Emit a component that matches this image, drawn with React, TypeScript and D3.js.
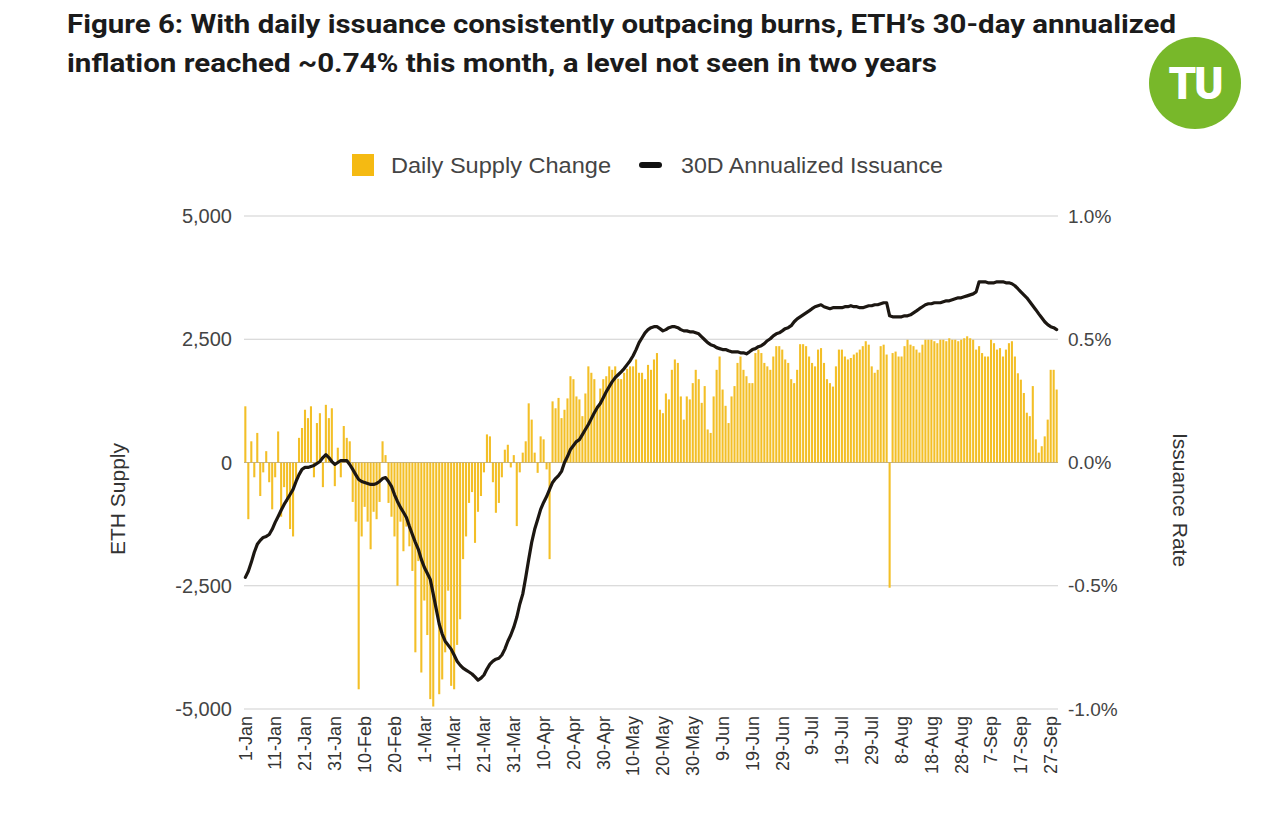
import React from "react";
import * as d3 from "d3";

// Daily ETH supply change (ETH), one value per day from 1-Jan
const dailySupplyChange: number[] = [
  1140, -1150, 430, -300, 600, -680, -200, 230, -400, -950,
  -300, 630, -1100, -500, -800, -1350, -1500, -400, 500, 700,
  1070, 900, 1140, -300, 800, 1000, -500, 1170, 900, 1100,
  -480, 300, -300, 740, 500, 430, -800, -1200, -4600, -1500,
  -900, -1200, -1760, -1000, -1150, -800, 430, 150, -820, -1100,
  -1500, -2500, -1200, -1800, -1300, -1700, -2200, -3850, -2000, -4260,
  -2800, -3500, -4800, -4950, -3000, -4700, -4400, -3850, -2600, -4530,
  -4600, -3700, -3180, -1960, -1500, -820, -600, -1630, -1000, -680,
  -200, 570, 530, -400, -1020, -820, -300, 260, 360, -100,
  150, -1290, -200, 200, 430, 1200, 870, 200, -210, 530,
  470, -140, -1960, 1240, 1100, 1310, 900, 1070, 1300, 1750,
  1690, 1340, 1280, 940, 1400, 1950, 1820, 1690, 1150, 1500,
  1690, 1750, 1950, 1880, 1950, 1700, 1690, 1820, 1900, 1950,
  1950, 2090, 1820, 1820, 1690, 1980, 1880, 2090, 2220, 1070,
  1000, 1400, 1280, 1880, 2090, 2020, 1340, 870, 1340, 1280,
  1610, 1880, 1690, 1210, 1550, 670, 600, 1340, 1880, 2150,
  1480, 1150, 800, 1340, 1550, 2020, 2150, 1880, 1750, 1610,
  1610, 2220, 2290, 2220, 2020, 1950, 1880, 2150, 2360, 2360,
  2290, 2090, 2020, 1690, 1610, 1880, 2400, 2400, 2360, 2150,
  2020, 1950, 2290, 2320, 2020, 1690, 1610, 1540, 1950, 2290,
  2290, 2150, 2090, 2120, 2190, 2230, 2290, 2360, 2460, 2390,
  1950, 1820, 1880, 2360, 2390, 2190, -2540, 2220, 2250, 2150,
  2150, 2360, 2490, 2390, 2360, 2290, 2230, 2390, 2490, 2490,
  2490, 2460, 2420, 2490, 2490, 2460, 2520, 2490, 2490, 2460,
  2490, 2520, 2560, 2520, 2490, 2290, 2360, 2220, 2150, 2150,
  2490, 2420, 2290, 2320, 2150, 2290, 2420, 2460, 2150, 1810,
  1680, 1410, 1010, 940, 1550, 470, 200, 330, 530, 870, 1880, 1880, 1480,
];

// 30D annualized issuance (%), one value per day
const annualizedIssuance: number[] = [
  -0.466, -0.441, -0.405, -0.364, -0.332, -0.316, -0.304, -0.3, -0.292, -0.271,
  -0.243, -0.219, -0.194, -0.17, -0.15, -0.13, -0.109, -0.077, -0.049, -0.028,
  -0.02, -0.02, -0.016, -0.012, -0.004, 0.004, 0.02, 0.032, 0.02, 0.004,
  -0.008, 0.0, 0.008, 0.008, 0.008, -0.008, -0.028, -0.049, -0.069, -0.077,
  -0.081, -0.085, -0.089, -0.089, -0.085, -0.077, -0.065, -0.061, -0.077, -0.097,
  -0.13, -0.158, -0.182, -0.202, -0.223, -0.259, -0.292, -0.324, -0.352, -0.393,
  -0.425, -0.449, -0.474, -0.534, -0.595, -0.656, -0.696, -0.725, -0.741, -0.757,
  -0.781, -0.806, -0.822, -0.834, -0.842, -0.85, -0.858, -0.87, -0.883, -0.875,
  -0.862, -0.838, -0.818, -0.806, -0.798, -0.794, -0.781, -0.757, -0.725, -0.7,
  -0.668, -0.628, -0.575, -0.534, -0.466, -0.393, -0.324, -0.271, -0.231, -0.19,
  -0.162, -0.138, -0.109, -0.081, -0.065, -0.053, -0.036, 0.0, 0.024, 0.053,
  0.069, 0.085, 0.093, 0.113, 0.134, 0.154, 0.178, 0.202, 0.223, 0.239,
  0.263, 0.287, 0.308, 0.328, 0.344, 0.356, 0.368, 0.381, 0.397, 0.413,
  0.433, 0.458, 0.486, 0.506, 0.526, 0.539, 0.547, 0.551, 0.551, 0.543,
  0.534, 0.539, 0.547, 0.551, 0.551, 0.547, 0.539, 0.534, 0.534, 0.53,
  0.53, 0.526, 0.522, 0.51, 0.498, 0.486, 0.478, 0.474, 0.466, 0.462,
  0.458, 0.458, 0.453, 0.449, 0.449, 0.449, 0.445, 0.445, 0.441, 0.449,
  0.458, 0.462, 0.47, 0.474, 0.482, 0.494, 0.502, 0.514, 0.522, 0.526,
  0.534, 0.543, 0.547, 0.555, 0.571, 0.583, 0.591, 0.599, 0.607, 0.615,
  0.624, 0.632, 0.636, 0.64, 0.632, 0.628, 0.624, 0.628, 0.628, 0.628,
  0.628, 0.632, 0.632, 0.636, 0.632, 0.632, 0.628, 0.628, 0.632, 0.636,
  0.636, 0.64, 0.64, 0.644, 0.648, 0.648, 0.595, 0.591, 0.591, 0.591,
  0.591, 0.595, 0.595, 0.599, 0.607, 0.615, 0.624, 0.632, 0.64, 0.644,
  0.644, 0.648, 0.648, 0.648, 0.652, 0.656, 0.656, 0.66, 0.664, 0.668,
  0.668, 0.672, 0.676, 0.68, 0.684, 0.692, 0.733, 0.733, 0.733, 0.729,
  0.729, 0.729, 0.733, 0.733, 0.733, 0.729, 0.729, 0.725, 0.717, 0.705,
  0.692, 0.68, 0.668, 0.652, 0.636, 0.62, 0.603, 0.587, 0.571, 0.559, 0.551, 0.547, 0.539,
];

const xTickLabels: string[] = [
  "1-Jan", "11-Jan", "21-Jan", "31-Jan", "10-Feb", "20-Feb", "1-Mar", "11-Mar",
  "21-Mar", "31-Mar", "10-Apr", "20-Apr", "30-Apr", "10-May", "20-May", "30-May",
  "9-Jun", "19-Jun", "29-Jun", "9-Jul", "19-Jul", "29-Jul", "8-Aug", "18-Aug",
  "28-Aug", "7-Sep", "17-Sep", "27-Sep",
];
const xTickEvery = 10;
const leftTicks: number[] = [5000, 2500, 0, -2500, -5000];
const rightTicks: number[] = [1.0, 0.5, 0.0, -0.5, -1.0];

const titleLines: string[] = [
  "Figure 6: With daily issuance consistently outpacing burns, ETH’s 30-day annualized",
  "inflation reached ~0.74% this month, a level not seen in two years",
];

const BAR_COLOR = "#F3BF27";
const LINE_COLOR = "#1c1712";
const AXIS_FONT = "'Liberation Sans', Arial, sans-serif";

export default function App() {
  const W = 1280;
  const H = 827;
  const plotLeft = 244;
  const plotRight = 1058;
  const plotTop = 216;
  const plotBottom = 709;

  const n = dailySupplyChange.length;
  const x = d3
    .scaleBand<number>()
    .domain(d3.range(n))
    .range([plotLeft, plotRight])
    .paddingInner(0.3)
    .paddingOuter(0.1);
  const bw = x.bandwidth();
  const cx = (i: number) => (x(i) as number) + bw / 2;

  const yL = d3.scaleLinear().domain([-5000, 5000]).range([plotBottom, plotTop]);
  const yR = d3.scaleLinear().domain([-1, 1]).range([plotBottom, plotTop]);

  const line = d3
    .line<number>()
    .x((_, i) => cx(i))
    .y((d) => yR(d))
    .curve(d3.curveLinear);

  const fmtL = (v: number) => d3.format(",")(v).replace("−", "-");
  const fmtR = (v: number) => `${v.toFixed(1)}%`;

  return (
    <div style={{ position: "absolute", left: 0, top: 0 }}>
      <svg width={W} height={H} style={{ display: "block", background: "#fff" }}>
        {/* Title */}
        <text
          x={67}
          y={33}
          fontFamily="Roboto, 'Open Sans', sans-serif"
          fontWeight={700}
          fontSize={25}
          fill="#1b1b1b"
          textLength={1109}
          lengthAdjust="spacingAndGlyphs"
        >
          {titleLines[0]}
        </text>
        <text
          x={67}
          y={72}
          fontFamily="Roboto, 'Open Sans', sans-serif"
          fontWeight={700}
          fontSize={25}
          fill="#1b1b1b"
          textLength={870}
          lengthAdjust="spacingAndGlyphs"
        >
          {titleLines[1]}
        </text>

        {/* Logo */}
        <circle cx={1195} cy={83} r={46} fill="#78B82A" />
        <text
          x={1195}
          y={99}
          textAnchor="middle"
          fontFamily="Roboto, sans-serif"
          fontWeight={900}
          fontSize={44}
          fill="#fff"
          letterSpacing={-2}
        >
          TU
        </text>

        {/* Legend */}
        <rect x={352} y={154} width={22} height={22} fill="#F5BA12" />
        <text x={391} y={173} fontFamily={AXIS_FONT} fontSize={22} fill="#444" textLength={220} lengthAdjust="spacingAndGlyphs">
          Daily Supply Change
        </text>
        <line x1={642} x2={659} y1={165} y2={165} stroke="#111" strokeWidth={6} strokeLinecap="round" />
        <text x={681} y={173} fontFamily={AXIS_FONT} fontSize={22} fill="#444" textLength={262} lengthAdjust="spacingAndGlyphs">
          30D Annualized Issuance
        </text>

        {/* Gridlines */}
        {leftTicks.map((t) => (
          <line
            key={`g${t}`}
            x1={plotLeft}
            x2={plotRight}
            y1={yL(t)}
            y2={yL(t)}
            stroke="#cfcfcf"
            strokeWidth={1.2}
          />
        ))}

        {/* Bars */}
        {dailySupplyChange.map((v, i) => (
          <rect
            key={`b${i}`}
            x={x(i)}
            width={bw}
            y={yL(Math.max(0, v))}
            height={Math.abs(yL(v) - yL(0))}
            fill={BAR_COLOR}
          />
        ))}

        {/* Zero line over bars */}
        <line x1={plotLeft} x2={plotRight} y1={yL(0)} y2={yL(0)} stroke="#b9a36a" strokeWidth={1} opacity={0.6} />

        {/* Issuance line */}
        <path
          d={line(annualizedIssuance) || ""}
          fill="none"
          stroke={LINE_COLOR}
          strokeWidth={3.2}
          strokeLinejoin="round"
          strokeLinecap="round"
        />

        {/* Left axis labels */}
        {leftTicks.map((t) => (
          <text
            key={`l${t}`}
            x={232}
            y={yL(t)}
            dy="0.35em"
            textAnchor="end"
            fontFamily={AXIS_FONT}
            fontSize={20}
            fill="#444"
          >
            {fmtL(t)}
          </text>
        ))}

        {/* Right axis labels */}
        {rightTicks.map((t) => (
          <text
            key={`r${t}`}
            x={1068}
            y={yR(t)}
            dy="0.35em"
            textAnchor="start"
            fontFamily={AXIS_FONT}
            fontSize={19}
            fill="#444"
          >
            {fmtR(t)}
          </text>
        ))}

        {/* Axis titles */}
        <text
          transform={`translate(118,499) rotate(-90)`}
          dy="0.35em"
          textAnchor="middle"
          fontFamily={AXIS_FONT}
          fontSize={21}
          fill="#333"
        >
          ETH Supply
        </text>
        <text
          transform={`translate(1180,500) rotate(90)`}
          dy="0.35em"
          textAnchor="middle"
          fontFamily={AXIS_FONT}
          fontSize={21}
          fill="#333"
        >
          Issuance Rate
        </text>

        {/* X axis labels */}
        {xTickLabels.map((lab, k) => {
          const i = k * xTickEvery;
          return (
            <text
              key={`x${k}`}
              transform={`translate(${cx(i)},716) rotate(-90)`}
              dy="0.35em"
              textAnchor="end"
              fontFamily={AXIS_FONT}
              fontSize={18}
              fill="#333"
            >
              {lab}
            </text>
          );
        })}
      </svg>
    </div>
  );
}
